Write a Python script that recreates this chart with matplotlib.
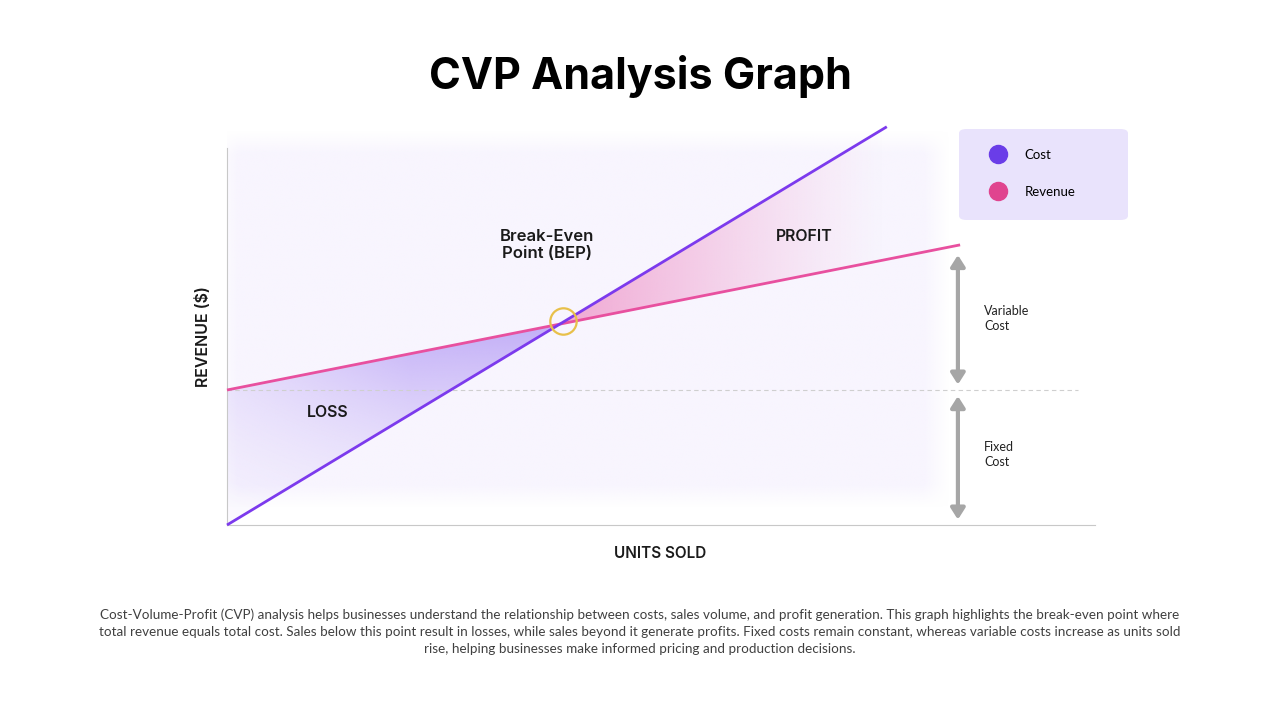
import numpy as np
import matplotlib
matplotlib.use("Agg")
import matplotlib.pyplot as plt
from matplotlib.lines import Line2D
from matplotlib.patches import FancyBboxPatch
from matplotlib.colors import to_rgb

# chart values (units sold vs dollars, in thousands)
cost_units = [0, 90]
cost_values = [0, 59]
revenue_units = [0, 100]
revenue_values = [20, 41.5]
fixed_cost = 20
legend_labels = ["Cost", "Revenue"]

purple = "#7c3aed"
pink = "#e8509f"
gray = "#a6a6a6"
head_font = "Inter"
body_font = "Lato"

fig = plt.figure(figsize=(12.8, 7.2), dpi=100)
fig.patch.set_facecolor("white")

# axes placed in pixel terms of the 1280x720 canvas
ax = fig.add_axes([227 / 1280, 1 - 525 / 720, 868 / 1280, 405 / 720])
ax.set_xlim(0, 118.4)
ax.set_ylim(0, 60)
ax.set_facecolor("none")
for s in ["top", "right"]:
    ax.spines[s].set_visible(False)
ax.spines["left"].set_bounds(0, 55.8)
ax.spines["left"].set_color("#c8c8c8")
ax.spines["bottom"].set_color("#c8c8c8")
ax.set_xticks([])
ax.set_yticks([])


def soft_rect(x0, x1, y0, y1, color, fade, alpha=1.0, z=0):
    # light panel with blurred edges
    nx, ny = 400, 200
    xs = np.linspace(x0, x1, nx)
    ys = np.linspace(y0, y1, ny)
    ax_ = np.clip(np.minimum(xs - x0, x1 - xs) / fade[0], 0, 1)
    ay_ = np.clip(np.minimum(ys - y0, y1 - ys) / fade[1], 0, 1)
    a = np.outer(ay_, ax_) * alpha
    img = np.zeros((ny, nx, 4))
    img[..., :3] = to_rgb(color)
    img[..., 3] = a
    ax.imshow(img, extent=[x0, x1, y0, y1], origin="lower", aspect="auto", zorder=z)


soft_rect(-2, 98.6, 2.5, 58.5, "#f8f5fe", (3.5, 3.5), alpha=1.0, z=0)

# break-even point from the two lines
cs = (cost_values[1] - cost_values[0]) / (cost_units[1] - cost_units[0])
rs = (revenue_values[1] - revenue_values[0]) / (revenue_units[1] - revenue_units[0])
bep_x = (revenue_values[0] - cost_values[0]) / (cs - rs)
bep_y = cost_values[0] + cs * bep_x

xx = np.linspace(0, cost_units[1], 300)
cost_line = np.interp(xx, cost_units, cost_values)
rev_line = np.interp(xx, revenue_units, revenue_values)

# loss region (revenue above cost, left of BEP)
m = xx <= bep_x
loss_poly = ax.fill_between(xx[m], cost_line[m], rev_line[m], color="none", lw=0)
gx, gy = np.meshgrid(np.linspace(0, bep_x, 200), np.linspace(0, bep_y, 200))
a = 0.08 + 0.5 * (gy / bep_y) ** 1.5
a = a * np.clip(0.45 + gx / bep_x, 0, 1)
img = np.zeros(gx.shape + (4,))
img[..., :3] = to_rgb("#9c7cf2")
img[..., 3] = np.clip(a, 0, 1)
im = ax.imshow(img, extent=[0, bep_x, 0, bep_y], origin="lower", aspect="auto", zorder=1)
im.set_clip_path(loss_poly.get_paths()[0], transform=ax.transData)

# profit region (cost above revenue, right of BEP), fading out to the right
m = xx >= bep_x
prof_poly = ax.fill_between(xx[m], rev_line[m], cost_line[m], color="none", lw=0)
gx, gy = np.meshgrid(np.linspace(bep_x, cost_units[1], 200), np.linspace(bep_y, cost_values[1], 200))
a = 0.62 * np.clip(1 - (gx - bep_x) / (cost_units[1] - bep_x), 0, 1) ** 1.2
img = np.zeros(gx.shape + (4,))
img[..., :3] = to_rgb("#ec78b8")
img[..., 3] = a
im = ax.imshow(img, extent=[bep_x, cost_units[1], bep_y, cost_values[1]], origin="lower",
               aspect="auto", zorder=1)
im.set_clip_path(prof_poly.get_paths()[0], transform=ax.transData)

# fixed cost dashed level
ax.plot([0, 116.1], [fixed_cost, fixed_cost], ls=(0, (4, 3)), color="#cfcfcf", lw=0.8, zorder=2)

# lines
ax.plot(revenue_units, revenue_values, color=pink, lw=2.0, zorder=4, clip_on=False,
        solid_capstyle="butt")
ax.plot(cost_units, cost_values, color=purple, lw=2.0, zorder=4, clip_on=False,
        solid_capstyle="butt")
ax.plot([bep_x + 0.5], [bep_y + 0.4], marker="o", ms=19, mfc="none", mec="#e8c04a", mew=1.6, zorder=5)

ax.set_xlim(0, 118.4)
ax.set_ylim(0, 60)

# cost arrows
arr = dict(arrowstyle="<|-|>,head_length=0.55,head_width=0.35", color=gray, lw=3.0,
           shrinkA=0, shrinkB=0, mutation_scale=12)
ax.annotate("", xy=(99.7, 40.0), xytext=(99.7, 20.8), arrowprops=arr, annotation_clip=False)
ax.annotate("", xy=(99.7, 19.1), xytext=(99.7, 0.8), arrowprops=arr, annotation_clip=False)
ax.text(103.3, 30.6, "Variable\nCost", fontsize=9, family=body_font, va="center", ha="left",
        color="#222222", linespacing=1.3)
ax.text(103.3, 10.4, "Fixed\nCost", fontsize=9, family=body_font, va="center", ha="left",
        color="#222222", linespacing=1.3)

# region labels
ax.text(13.8, 16.7, "LOSS", fontsize=11.5, weight="semibold", family=head_font, ha="center",
        va="center", color="#1a1a1a")
ax.text(78.7, 42.8, "PROFIT", fontsize=11.5, weight="semibold", family=head_font, ha="center",
        va="center", color="#1a1a1a")
ax.text(43.6, 41.5, "Break-Even\nPoint (BEP)", fontsize=12, weight="semibold", family=head_font,
        ha="center", va="center", color="#1a1a1a", linespacing=1.15)

# legend: rounded panel behind a frameless legend
fig.patches.append(FancyBboxPatch((959 / 1280, 1 - 220 / 720), 169 / 1280, 91 / 720,
                                  boxstyle="round,pad=0,rounding_size=0.006",
                                  transform=fig.transFigure, facecolor="#e9e3fc",
                                  edgecolor="none", zorder=0))
handles = [Line2D([], [], ls="", marker="o", ms=13, color="#6a3de8"),
           Line2D([], [], ls="", marker="o", ms=13, color="#e0448f")]
leg = fig.legend(handles, legend_labels, loc="upper left",
                 bbox_to_anchor=(985 / 1280, 1 - 149 / 720),
                 frameon=False, borderpad=0, labelspacing=1.9, handletextpad=1.0,
                 borderaxespad=0, handlelength=2.0,
                 prop={"family": body_font, "size": 9.5})

# axis labels and title
fig.text(0.5, 1 - 77 / 720, "CVP Analysis Graph", fontsize=31, weight="bold", family=head_font,
         ha="center", va="center", color="black")
fig.text(660 / 1280, 1 - 553 / 720, "UNITS SOLD", fontsize=11, weight="semibold", family=head_font,
         ha="center", va="center", color="#1a1a1a")
fig.text(203 / 1280, 1 - 337 / 720, "REVENUE ($)", fontsize=11.5, weight="semibold",
         family=head_font, ha="center", va="center", rotation=90, color="#1a1a1a")

desc = ("Cost-Volume-Profit (CVP) analysis helps businesses understand the relationship between costs, "
        "sales volume, and profit generation. This graph highlights the break-even point where\n"
        "total revenue equals total cost. Sales below this point result in losses, while sales beyond it "
        "generate profits. Fixed costs remain constant, whereas variable costs increase as units sold\n"
        "rise, helping businesses make informed pricing and production decisions.")
fig.text(0.5, 1 - 632 / 720, desc, fontsize=9.75, family=body_font, ha="center", va="center",
         color="#404040", linespacing=1.5)

fig.savefig("out.png", dpi=100)
